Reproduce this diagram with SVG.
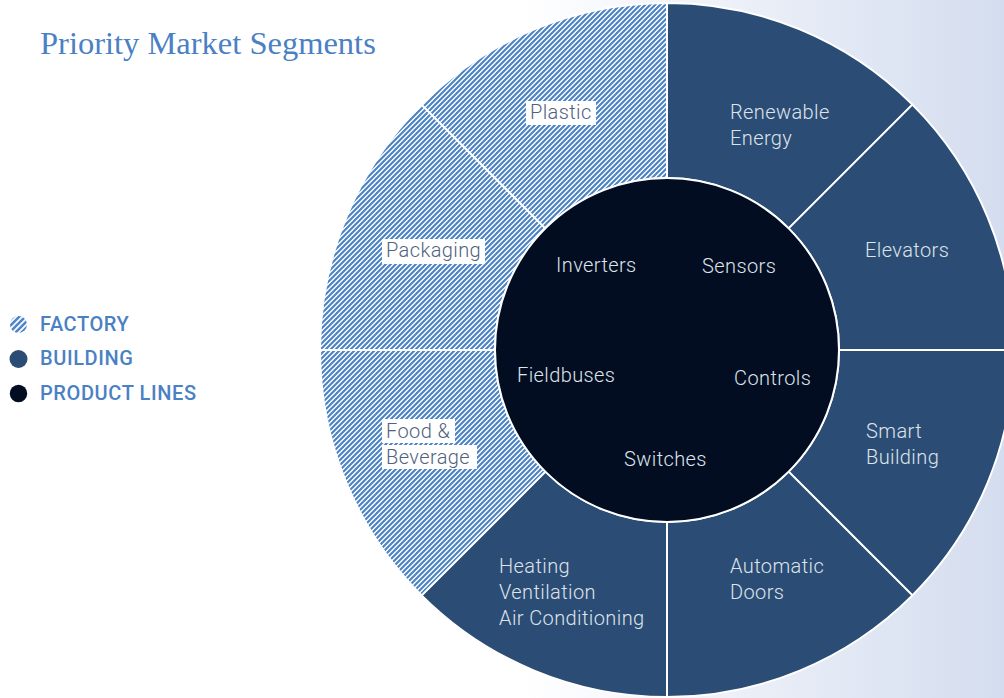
<svg xmlns="http://www.w3.org/2000/svg" width="1004" height="698" viewBox="0 0 1004 698">
  <defs>
    <linearGradient id="bg" x1="0" y1="0" x2="1004" y2="0" gradientUnits="userSpaceOnUse">
      <stop offset="0" stop-color="#ffffff"/>
      <stop offset="0.52" stop-color="#ffffff"/>
      <stop offset="1" stop-color="#d4ddef"/>
    </linearGradient>
    <pattern id="hatch" patternUnits="userSpaceOnUse" width="5" height="5">
      <rect width="5" height="5" fill="#ffffff"/>
      <path d="M-1.25,1.25 L1.25,-1.25 M0,5 L5,0 M3.75,6.25 L6.25,3.75" stroke="#4a82c4" stroke-width="2.1"/>
    </pattern>
    <pattern id="hatchIcon" patternUnits="userSpaceOnUse" width="6" height="6">
      <rect width="6" height="6" fill="#ffffff"/>
      <path d="M-1.5,1.5 L1.5,-1.5 M0,6 L6,0 M4.5,7.5 L7.5,4.5" stroke="#4f86c6" stroke-width="2.6"/>
    </pattern>
    <style>
      .bld { fill: #2b4d75; stroke: #ffffff; stroke-width: 2; }
      .fac { fill: url(#hatch); stroke: #ffffff; stroke-width: 2; }
      .lbl { font-family: Roboto, "Liberation Sans", sans-serif; font-size: 20px; font-weight: 300; fill: #dfe3ea; letter-spacing: 0.4px; }
      .flbl { font-family: Roboto, "Liberation Sans", sans-serif; font-size: 20px; font-weight: 300; fill: #50627e; letter-spacing: 0.4px; }
      .box { fill: #ffffff; }
      .leg { font-family: Roboto, "Liberation Sans", sans-serif; font-size: 20px; font-weight: 500; fill: #4a80c4; letter-spacing: 0.6px; }
    </style>
  </defs>

  <rect x="0" y="0" width="1004" height="698" fill="url(#bg)"/>

  <text x="40" y="54" font-family="'Liberation Serif', 'DejaVu Serif', serif" font-size="32.5" fill="#4a80c4">Priority Market Segments</text>

  <g id="legend">
    <g id="legend-factory">
      <circle cx="18.5" cy="324.5" r="8.5" fill="url(#hatchIcon)"/>
      <text class="leg" x="40" y="331">FACTORY</text>
    </g>
    <g id="legend-building">
      <circle cx="18.5" cy="359" r="9" fill="#2b4d75"/>
      <text class="leg" x="40" y="365">BUILDING</text>
    </g>
    <g id="legend-product">
      <circle cx="18.5" cy="393.5" r="8.7" fill="#020d22"/>
      <text class="leg" x="40" y="400">PRODUCT LINES</text>
    </g>
  </g>

  <g id="renewable-energy">
    <path class="bld" d="M912.37,104.63 A347,347 0 0 0 667,3 L667,178 A172,172 0 0 1 788.62,228.38 Z"/>
    <text class="lbl" x="730" y="119">Renewable</text>
    <text class="lbl" x="730" y="145">Energy</text>
  </g>
  <g id="elevators">
    <path class="bld" d="M1014,350 A347,347 0 0 0 912.37,104.63 L788.62,228.38 A172,172 0 0 1 839,350 Z"/>
    <text class="lbl" x="865" y="257">Elevators</text>
  </g>
  <g id="smart-building">
    <path class="bld" d="M912.37,595.37 A347,347 0 0 0 1014,350 L839,350 A172,172 0 0 1 788.62,471.62 Z"/>
    <text class="lbl" x="866" y="438">Smart</text>
    <text class="lbl" x="866" y="464">Building</text>
  </g>
  <g id="automatic-doors">
    <path class="bld" d="M667,697 A347,347 0 0 0 912.37,595.37 L788.62,471.62 A172,172 0 0 1 667,522 Z"/>
    <text class="lbl" x="730" y="573">Automatic</text>
    <text class="lbl" x="730" y="599">Doors</text>
  </g>
  <g id="hvac">
    <path class="bld" d="M421.63,595.37 A347,347 0 0 0 667,697 L667,522 A172,172 0 0 1 545.38,471.62 Z"/>
    <text class="lbl" x="499" y="573">Heating</text>
    <text class="lbl" x="499" y="599">Ventilation</text>
    <text class="lbl" x="499" y="625">Air Conditioning</text>
  </g>
  <g id="food-beverage">
    <path class="fac" d="M320,350 A347,347 0 0 0 421.63,595.37 L545.38,471.62 A172,172 0 0 1 495,350 Z"/>
    <rect class="box" x="382" y="419" width="73" height="24"/>
    <rect class="box" x="382" y="445" width="95" height="24"/>
    <text class="flbl" x="386" y="438">Food &amp;</text>
    <text class="flbl" x="386" y="464">Beverage</text>
  </g>
  <g id="packaging">
    <path class="fac" d="M421.63,104.63 A347,347 0 0 0 320,350 L495,350 A172,172 0 0 1 545.38,228.38 Z"/>
    <rect class="box" x="382" y="239" width="103" height="25"/>
    <text class="flbl" x="386" y="257">Packaging</text>
  </g>
  <g id="plastic">
    <path class="fac" d="M667,3 A347,347 0 0 0 421.63,104.63 L545.38,228.38 A172,172 0 0 1 667,178 Z"/>
    <rect class="box" x="526" y="101" width="70" height="24"/>
    <text class="flbl" x="530" y="119">Plastic</text>
  </g>

  <g id="product-lines">
    <circle cx="667" cy="350" r="172" fill="#020d22" stroke="#ffffff" stroke-width="2"/>
    <text class="lbl" x="556" y="272">Inverters</text>
    <text class="lbl" x="702" y="273">Sensors</text>
    <text class="lbl" x="517" y="382">Fieldbuses</text>
    <text class="lbl" x="734" y="385">Controls</text>
    <text class="lbl" x="624" y="466">Switches</text>
  </g>
</svg>
